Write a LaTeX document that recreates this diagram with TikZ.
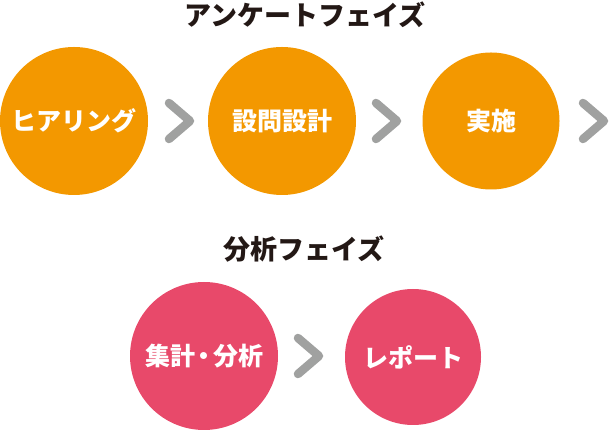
\documentclass[tikz,border=0pt]{standalone}
\usepackage{fontspec}
\newfontfamily\jp{Noto Sans CJK JP}
\definecolor{orng}{HTML}{F39800}
\definecolor{pnk}{HTML}{E8496A}
\definecolor{chev}{HTML}{A0A1A0}
\definecolor{ttl}{HTML}{231815}
\begin{document}
\begin{tikzpicture}[x=1pt,y=1pt,
  circ/.style={circle,inner sep=0pt,minimum size=#1,text=white,font=\jp\bfseries\fontsize{25}{25}\selectfont},
  ttlnode/.style={text=ttl,font=\jp\bfseries\fontsize{27}{27}\selectfont,inner sep=0pt},
  chevline/.style={draw=chev,line width=8.5pt,line cap=round,line join=round}]
\useasboundingbox (0,0) rectangle (610,430);
% titles
\node[ttlnode] (t1) at (305,415) {アンケートフェイズ};
\node[ttlnode] (t2) at (304,181) {分析フェイズ};
% orange circles
\node[circ=148pt,fill=orng] (c1) at (74,309) {ヒアリング};
\node[circ=148pt,fill=orng] (c2) at (282,309) {設問設計};
\node[circ=137pt,fill=orng] (c3) at (491,309) {実施};
% pink circles
\node[circ=148pt,fill=pnk] (p1) at (204,74) {集計\hspace{-3.5pt}・\hspace{-3.5pt}分析};
\node[circ=136pt,fill=pnk] (p2) at (413,73) {レポート};
% chevrons
\coordinate (k1) at (180,309);
\coordinate (k2) at (387,309);
\coordinate (k3) at (594,309);
\coordinate (k4) at (309,74);
\foreach \k in {k1,k2,k3,k4}{
  \draw[chevline] ([shift={(-11,18)}]\k) -- ([shift={(10,0)}]\k) -- ([shift={(-11,-18)}]\k);
}
\end{tikzpicture}
\end{document}
